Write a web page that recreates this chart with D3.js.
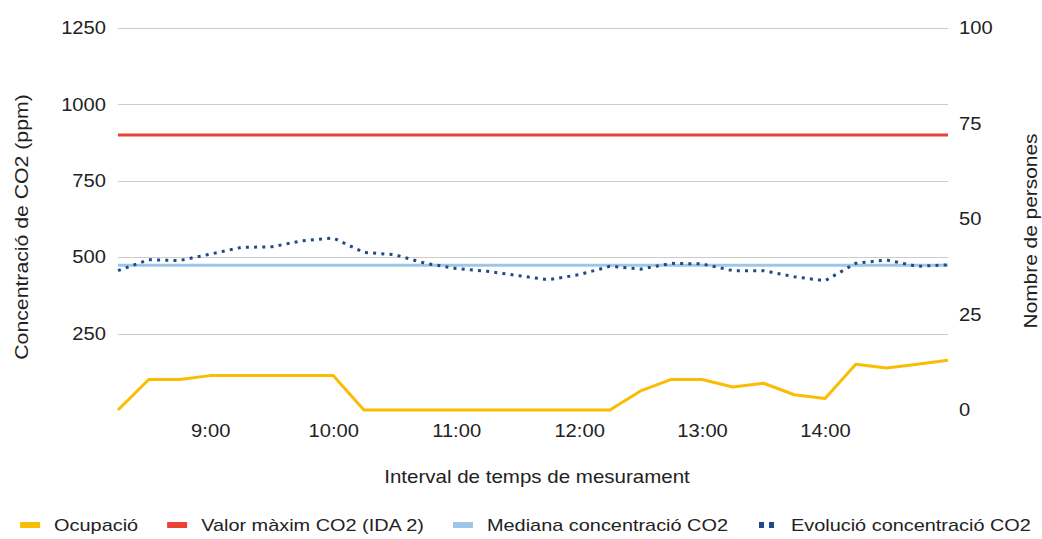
<!DOCTYPE html>
<html>
<head>
<meta charset="utf-8">
<script src="https://cdn.jsdelivr.net/npm/d3@7"></script>
<style>
  body { margin: 0; background: #fff; }
  svg { display: block; font-family: "Liberation Sans", Arial, sans-serif; }
</style>
</head>
<body>
<script>
// measuring times (15 min steps)
const times = ["8:15", "8:30", "8:45", "9:00", "9:15", "9:30", "9:45", "10:00",
               "10:15", "10:30", "10:45", "11:00", "11:15", "11:30", "11:45", "12:00",
               "12:15", "12:30", "12:45", "13:00", "13:15", "13:30", "13:45", "14:00",
               "14:15", "14:30", "14:45", "15:00"];
const hourLabels = ["9:00", "10:00", "11:00", "12:00", "13:00", "14:00"];

// people in the room
const occupancy = [0, 8, 8, 9, 9, 9, 9, 9, 0, 0, 0, 0, 0, 0, 0, 0,
                   0, 5, 8, 8, 6, 7, 4, 3, 12, 11, 12, 13];
// CO2 ppm
const co2 = [456, 492, 489, 510, 532, 534, 554, 563, 516, 508, 480, 463, 454, 440,
             426, 443, 470, 461, 480, 478, 456, 456, 436, 423, 480, 491, 470, 475];
const co2Max = 900;     // IDA 2
const co2Median = 474;

const leftTicks = [250, 500, 750, 1000, 1250];
const rightTicks = [0, 25, 50, 75, 100];

const seriesNames = ["Ocupació", "Valor màxim CO2 (IDA 2)", "Mediana concentració CO2", "Evolució concentració CO2"];

const width = 1042, height = 539;
const margins = {top: 28, left: 118, right: 94, bottom: 129};
const K = 1.12; // glyphs in the picture are a bit wide

const colors = {occ: "#fbbc04", max: "#ea4335", median: "#9fc5e8", evo: "#1f4a8a"};

const svg = d3.select("body").append("svg")
    .attr("width", width)
    .attr("height", height);

svg.append("rect").attr("width", width).attr("height", height).attr("fill", "#fff");

const x = d3.scalePoint().domain(times).range([margins.left, width - margins.right]);
const yL = d3.scaleLinear().domain([0, 1250]).range([height - margins.bottom, margins.top]);
const yR = d3.scaleLinear().domain([0, 100]).range([height - margins.bottom, margins.top]);

function stretch(sel, k){
    sel.each(function(){
        let t = d3.select(this);
        let px = +t.attr("x") || 0;
        t.attr("x", px / k).attr("transform", "scale(" + k + ",1)");
    });
}

// grid
svg.append("g").selectAll("line")
    .data(leftTicks)
    .join("line")
    .attr("x1", margins.left)
    .attr("x2", width - margins.right)
    .attr("y1", d => Math.round(yL(d)) + 0.5)
    .attr("y2", d => Math.round(yL(d)) + 0.5)
    .attr("stroke", "#cccccc")
    .attr("stroke-width", 1);

// left axis
const gL = svg.append("g")
    .attr("transform", "translate(" + margins.left + ",0)")
    .call(d3.axisLeft(yL).tickValues(leftTicks).tickFormat(d3.format("d")).tickSize(0).tickPadding(12));
gL.select(".domain").remove();
gL.attr("font-size", 18).attr("font-family", null);
gL.selectAll("text").attr("fill", "#222");
stretch(gL.selectAll("text"), K);

// right axis
const gR = svg.append("g")
    .attr("transform", "translate(" + (width - margins.right) + ",0)")
    .call(d3.axisRight(yR).tickValues(rightTicks).tickFormat(d3.format("d")).tickSize(0).tickPadding(11));
gR.select(".domain").remove();
gR.attr("font-size", 18).attr("font-family", null);
gR.selectAll("text").attr("fill", "#222");
stretch(gR.selectAll("text"), K);

// bottom axis
const gB = svg.append("g")
    .attr("transform", "translate(0," + (height - margins.bottom) + ")")
    .call(d3.axisBottom(x).tickValues(hourLabels).tickSize(0));
gB.select(".domain").remove();
gB.attr("font-size", 18).attr("font-family", null);
gB.selectAll("text").attr("fill", "#222").attr("y", 27).attr("dy", null);
stretch(gB.selectAll("text"), K);

// axis titles
svg.append("text")
    .attr("transform", "translate(537,483) scale(1.14,1)")
    .attr("text-anchor", "middle")
    .attr("font-size", 18)
    .attr("fill", "#222")
    .text("Interval de temps de mesurament");

svg.append("text")
    .attr("transform", "translate(28,227) rotate(-90) scale(1.18,1)")
    .attr("text-anchor", "middle")
    .attr("font-size", 18)
    .attr("fill", "#222")
    .text("Concentració de CO2 (ppm)");

svg.append("text")
    .attr("transform", "translate(1037,231) rotate(-90) scale(1.16,1)")
    .attr("text-anchor", "middle")
    .attr("font-size", 18)
    .attr("fill", "#222")
    .text("Nombre de persones");

// lines
const lineL = d3.line().x((d, i) => x(times[i])).y(d => yL(d));
const lineR = d3.line().x((d, i) => x(times[i])).y(d => yR(d));

const body = svg.append("g").attr("fill", "none");

body.append("path")
    .datum(times.map(() => co2Median))
    .attr("d", lineL)
    .attr("stroke", colors.median)
    .attr("stroke-width", 3);

body.append("path")
    .datum(times.map(() => co2Max))
    .attr("d", lineL)
    .attr("stroke", colors.max)
    .attr("stroke-width", 3);

body.append("path")
    .datum(occupancy)
    .attr("d", lineR)
    .attr("stroke", colors.occ)
    .attr("stroke-width", 3)
    .attr("stroke-linejoin", "round");

body.append("path")
    .datum(co2)
    .attr("d", lineL)
    .attr("stroke", colors.evo)
    .attr("stroke-width", 3)
    .attr("stroke-dasharray", "3,5.2");

// legend
const legend = svg.append("g").attr("font-size", 17);
const legendColors = [colors.occ, colors.max, colors.median, colors.evo];
const LK = 1.17;
let lx = 0;
seriesNames.forEach((name, i) => {
    let g = legend.append("g").attr("transform", "translate(" + lx + ",0)");
    if (i < 3){
        g.append("rect").attr("x", 0).attr("y", -3).attr("width", 20).attr("height", 6)
            .attr("fill", legendColors[i]);
    } else {
        g.append("rect").attr("x", 2).attr("y", -3).attr("width", 5).attr("height", 6).attr("fill", legendColors[i]);
        g.append("rect").attr("x", 12).attr("y", -3).attr("width", 5).attr("height", 6).attr("fill", legendColors[i]);
    }
    let t = g.append("text")
        .attr("transform", "translate(34,6) scale(" + LK + ",1)")
        .attr("fill", "#222")
        .text(name);
    let w = t.node().getComputedTextLength() * LK;
    lx += 34 + w + 29;
});
const legendW = lx - 29;
legend.attr("transform", "translate(" + (525.5 - legendW / 2) + ",525)");
</script>
</body>
</html>
